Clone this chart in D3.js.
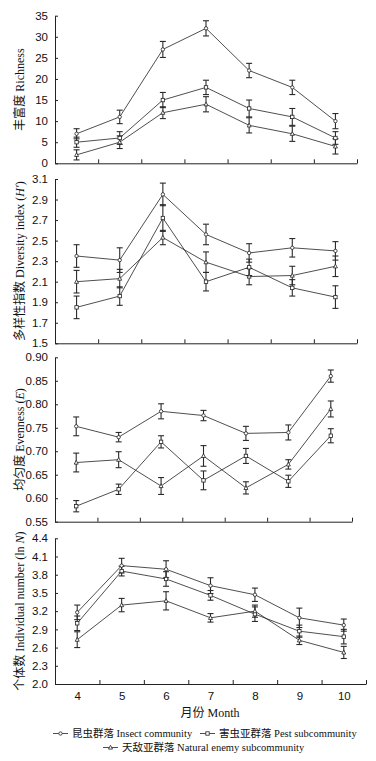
<!DOCTYPE html>
<html>
<head>
<meta charset="utf-8">
<script src="https://cdn.jsdelivr.net/npm/d3@7"></script>
<style>
  body { margin: 0; background: #fff; }
  svg { display: block; font-family: "Liberation Serif", "Noto Sans CJK SC", serif; }
</style>
</head>
<body>
<script>
// months on the shared x axis
var months = [4, 5, 6, 7, 8, 9, 10];

// Richness
var richInsect = [7, 11, 27, 32, 22, 18, 10];
var richInsectErr = [1.2, 1.6, 1.9, 1.8, 1.7, 1.7, 1.8];
var richPest = [5, 6, 15, 18, 13, 11, 6];
var richPestErr = [1.2, 1.5, 1.8, 1.7, 2.0, 2.0, 1.5];
var richEnemy = [2, 5, 12, 14, 9, 7, 4];
var richEnemyErr = [1.2, 1.5, 1.4, 1.8, 1.8, 1.8, 1.8];
var richTicks = [0, 5, 10, 15, 20, 25, 30, 35];

// Diversity index H'
var divInsect = [2.35, 2.31, 2.95, 2.56, 2.38, 2.43, 2.40];
var divInsectErr = [0.11, 0.12, 0.11, 0.10, 0.09, 0.09, 0.09];
var divPest = [1.85, 1.96, 2.72, 2.10, 2.24, 2.04, 1.95];
var divPestErr = [0.11, 0.09, 0.13, 0.09, 0.08, 0.08, 0.11];
var divEnemy = [2.10, 2.13, 2.53, 2.29, 2.15, 2.16, 2.25];
var divEnemyErr = [0.11, 0.09, 0.07, 0.10, 0.08, 0.09, 0.10];
var divTicks = [1.5, 1.7, 1.9, 2.1, 2.3, 2.5, 2.7, 2.9, 3.1];

// Evenness E
var evenInsect = [0.753, 0.730, 0.785, 0.776, 0.738, 0.740, 0.860];
var evenInsectErr = [0.020, 0.010, 0.016, 0.011, 0.015, 0.016, 0.013];
var evenPest = [0.583, 0.619, 0.720, 0.638, 0.690, 0.636, 0.733];
var evenPestErr = [0.012, 0.011, 0.013, 0.020, 0.016, 0.013, 0.015];
var evenEnemy = [0.676, 0.682, 0.626, 0.690, 0.622, 0.672, 0.790];
var evenEnemyErr = [0.020, 0.017, 0.018, 0.022, 0.013, 0.010, 0.017];
var evenTicks = [0.55, 0.60, 0.65, 0.70, 0.75, 0.80, 0.85, 0.90];

// Individual number ln N
var numInsect = [3.18, 3.95, 3.89, 3.62, 3.47, 3.09, 2.97];
var numInsectErr = [0.12, 0.12, 0.14, 0.13, 0.11, 0.16, 0.10];
var numPest = [3.00, 3.86, 3.73, 3.46, 3.15, 2.87, 2.78];
var numPestErr = [0.12, 0.08, 0.12, 0.08, 0.12, 0.10, 0.12];
var numEnemy = [2.73, 3.30, 3.37, 3.09, 3.20, 2.72, 2.52];
var numEnemyErr = [0.13, 0.11, 0.15, 0.07, 0.10, 0.07, 0.10];
var numTicks = [2.0, 2.3, 2.6, 2.9, 3.2, 3.5, 3.8, 4.1, 4.4];

var legendNames = ["昆虫群落 Insect community", "害虫亚群落 Pest subcommunity", "天敌亚群落 Natural enemy subcommunity"];
var markers = ["circle", "square", "triangle"];

var svg = d3.select("body").append("svg")
    .attr("width", 376)
    .attr("height", 761);

var ink = "#222";

var panels = [
  {series: [richInsect, richPest, richEnemy], errs: [richInsectErr, richPestErr, richEnemyErr],
   ticks: richTicks, fmt: d3.format("d"), top: 15.7, bottom: 163.3, right: 357,
   title: [["丰富度 Richness", false]]},
  {series: [divInsect, divPest, divEnemy], errs: [divInsectErr, divPestErr, divEnemyErr],
   ticks: divTicks, fmt: d3.format(".1f"), top: 179, bottom: 343.3, right: 357,
   title: [["多样性指数 Diversity index (", false], ["H′", true], [")", false]]},
  {series: [evenInsect, evenPest, evenEnemy], errs: [evenInsectErr, evenPestErr, evenEnemyErr],
   ticks: evenTicks, fmt: d3.format(".2f"), top: 357.3, bottom: 521.7, right: 352,
   title: [["均匀度 Evenness (", false], ["E", true], [")", false]]},
  {series: [numInsect, numPest, numEnemy], errs: [numInsectErr, numPestErr, numEnemyErr],
   ticks: numTicks, fmt: d3.format(".1f"), top: 538.3, bottom: 684, right: 366,
   title: [["个体数 Individual number (ln ", false], ["N", true], [")", false]]}
];

var left = 55;

function drawMarker(g, type, cx, cy) {
  if (type === "circle") {
    g.append("circle").attr("cx", cx).attr("cy", cy).attr("r", 1.7)
      .attr("fill", "#fff").attr("stroke", ink).attr("stroke-width", 0.8);
  } else if (type === "square") {
    g.append("rect").attr("x", cx - 1.7).attr("y", cy - 1.7).attr("width", 3.4).attr("height", 3.4)
      .attr("fill", "#fff").attr("stroke", ink).attr("stroke-width", 0.8);
  } else {
    g.append("path").attr("d", "M" + cx + "," + (cy - 2.2) + "L" + (cx + 2) + "," + (cy + 1.6) + "L" + (cx - 2) + "," + (cy + 1.6) + "Z")
      .attr("fill", "#fff").attr("stroke", ink).attr("stroke-width", 0.8);
  }
}

panels.forEach(function(p, pi) {
  var x = d3.scaleLinear().domain([3.5, 10.5]).range([left, p.right]);
  var y = d3.scaleLinear().domain([p.ticks[0], p.ticks[p.ticks.length - 1]]).range([p.bottom, p.top]);

  var g = svg.append("g");

  // y axis, ticks pointing inward
  var ya = g.append("g")
      .attr("transform", "translate(" + left + ",0)")
      .call(d3.axisLeft(y).tickValues(p.ticks).tickFormat(p.fmt).tickSize(-3).tickSizeOuter(0).tickPadding(7));
  ya.select(".domain").attr("stroke", ink);
  ya.selectAll(".tick line").attr("stroke", ink);
  ya.selectAll("text").attr("font-size", 11.5).attr("fill", "#111");

  // x axis: ticks between months, pointing up
  var xa = g.append("g")
      .attr("transform", "translate(0," + p.bottom + ")")
      .call(d3.axisBottom(x).tickValues(d3.range(4.5, 11, 1)).tickFormat("").tickSize(-4).tickSizeOuter(0));
  xa.select(".domain").attr("stroke", ink);
  xa.selectAll(".tick line").attr("stroke", ink);

  if (pi === 3) {
    var xl = g.append("g")
        .attr("transform", "translate(0," + p.bottom + ")")
        .call(d3.axisBottom(x).tickValues(months).tickFormat(d3.format("d")).tickSize(0).tickPadding(8));
    xl.select(".domain").remove();
    xl.selectAll("text").attr("font-size", 11.5).attr("fill", "#111");
  }

  // y title
  var t = g.append("text")
      .attr("transform", "translate(20," + ((p.top + p.bottom) / 2) + ") rotate(-90)")
      .attr("text-anchor", "middle")
      .attr("dominant-baseline", "central")
      .attr("font-size", 12)
      .attr("fill", "#111");
  p.title.forEach(function(part) {
    t.append("tspan").attr("font-style", part[1] ? "italic" : "normal").text(part[0]);
  });

  var line = d3.line()
      .x(function(d, i) { return x(months[i]); })
      .y(function(d) { return y(d); });

  p.series.forEach(function(s, si) {
    g.append("path")
        .datum(s)
        .attr("d", line)
        .attr("fill", "none")
        .attr("stroke", ink)
        .attr("stroke-width", 0.8);

    // error bars
    s.forEach(function(v, i) {
      var e = p.errs[si][i];
      var cx = x(months[i]);
      var eb = g.append("g").attr("stroke", "#2a2a2a").attr("stroke-width", 1.1);
      eb.append("line").attr("x1", cx).attr("x2", cx).attr("y1", y(v - e)).attr("y2", y(v + e));
      eb.append("line").attr("x1", cx - 3).attr("x2", cx + 3).attr("y1", y(v - e)).attr("y2", y(v - e));
      eb.append("line").attr("x1", cx - 3).attr("x2", cx + 3).attr("y1", y(v + e)).attr("y2", y(v + e));
    });
  });

  p.series.forEach(function(s, si) {
    s.forEach(function(v, i) {
      drawMarker(g, markers[si], x(months[i]), y(v));
    });
  });
});

// x title
svg.append("text")
    .attr("x", 210)
    .attr("y", 717)
    .attr("text-anchor", "middle")
    .attr("font-size", 12)
    .attr("fill", "#111")
    .text("月份 Month");

// legend
var legendPos = [[53, 737], [200, 737], [103, 751]];
legendNames.forEach(function(name, i) {
  var lg = svg.append("g").attr("transform", "translate(" + legendPos[i][0] + "," + legendPos[i][1] + ")");
  lg.append("line").attr("x1", 0).attr("x2", 15).attr("y1", -3.5).attr("y2", -3.5)
    .attr("stroke", ink).attr("stroke-width", 0.8);
  drawMarker(lg, markers[i], 7.5, -3.5);
  lg.append("text")
    .attr("x", 19)
    .attr("y", 0)
    .attr("font-size", 10.5)
    .attr("fill", "#111")
    .text(name);
});
</script>
</body>
</html>
